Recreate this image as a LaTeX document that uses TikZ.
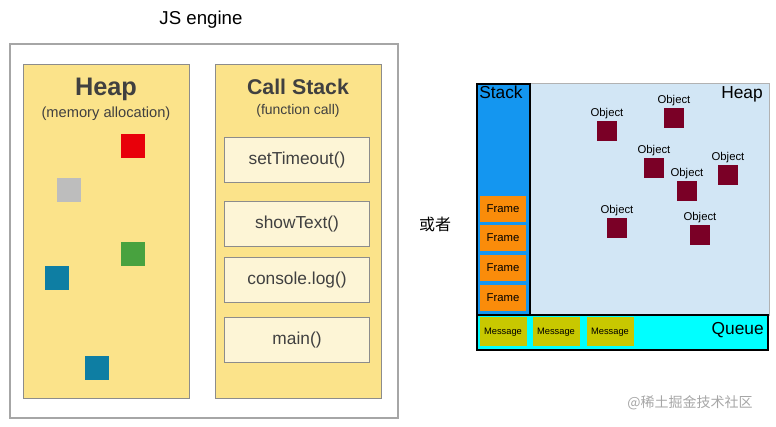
\documentclass[tikz,border=0pt]{standalone}
\usepackage{fontspec}
\setmainfont{Liberation Sans}
\newfontfamily\cjk{Noto Sans CJK SC}
\usetikzlibrary{positioning}
\definecolor{panelyellow}{HTML}{FBE38A}
\definecolor{callbox}{HTML}{FDF5D6}
\definecolor{stackblue}{HTML}{1496F0}
\definecolor{heapblue}{HTML}{D2E6F5}
\definecolor{queuecyan}{HTML}{00FFFF}
\definecolor{objred}{HTML}{7A0026}
\definecolor{frameorange}{HTML}{FA8C0A}
\definecolor{msgyellow}{HTML}{C8C800}
\definecolor{blobred}{HTML}{E8000A}
\definecolor{blobgray}{HTML}{BDBDBD}
\definecolor{blobgreen}{HTML}{48A23F}
\definecolor{blobteal}{HTML}{0E7EA3}
\tikzstyle{panel}=[fill=panelyellow, draw=black!45]
\tikzstyle{call}=[rectangle, fill=callbox, draw=black!45, minimum width=108.75pt, minimum height=33.75pt, font=\fontsize{13}{15}\selectfont, text=black!75]
\tikzstyle{blob}=[rectangle, minimum size=18pt, inner sep=0pt]
\tikzstyle{obj}=[rectangle, fill=objred, minimum size=15pt, inner sep=0pt]
\tikzstyle{objlab}=[font=\fontsize{8.5}{10}\selectfont, inner sep=1pt]
\tikzstyle{frame}=[rectangle, fill=frameorange, minimum width=34.5pt, minimum height=20pt, inner sep=0pt, font=\fontsize{8.5}{10}\selectfont]
\tikzstyle{msg}=[rectangle, fill=msgyellow, minimum width=35.25pt, minimum height=21.75pt, inner sep=0pt, font=\fontsize{7}{8}\selectfont]
\begin{document}
\begin{tikzpicture}[x=0.75pt, y=-0.75pt]
	\useasboundingbox (0,0) rectangle (776,427);

	% JS engine
	\node (title) at (201,20) {\fontsize{14}{16}\selectfont JS engine};
	\draw[black!35, line width=1pt] (10,44) rectangle (398,418);
	\draw[panel] (23,64) rectangle (189,398);
	\draw[panel] (215,64) rectangle (381,398);
	\node[font=\bfseries\fontsize{19}{21}\selectfont, text=black!75] (heap) at (106,89) {Heap};
	\node[font=\fontsize{11}{13}\selectfont, text=black!75] (heapsub) at (106,114) {(memory allocation)};
	\node[font=\bfseries\fontsize{16}{18}\selectfont, text=black!75] (stack) at (298,87) {Call Stack};
	\node[font=\fontsize{10.5}{12}\selectfont, text=black!75] (stacksub) at (298,111) {(function call)};
	\node[call] (f1) at (297,160) {setTimeout()};
	\node[call] (f2) at (297,224) {showText()};
	\node[call] (f3) at (297,280) {console.log()};
	\node[call] (f4) at (297,340) {main()};
	\node[blob, fill=blobred] (b1) at (133,146) {};
	\node[blob, fill=blobgray] (b2) at (69,190) {};
	\node[blob, fill=blobgreen] (b3) at (133,254) {};
	\node[blob, fill=blobteal] (b4) at (57,278) {};
	\node[blob, fill=blobteal] (b5) at (97,368) {};

	\node[font=\cjk\fontsize{12}{14}\selectfont] (or) at (435,224) {或者};

	% event loop model
	\draw[fill=heapblue, draw=black!30] (476,83) rectangle (769,315);
	\draw[fill=stackblue, draw=black, line width=1pt] (477,84) rectangle (530,315);
	\draw[fill=queuecyan, draw=black, line width=1pt] (477,315) rectangle (768,350);
	\node[anchor=north west, font=\fontsize{13}{15}\selectfont, inner sep=0pt] (stk) at (479,86) {Stack};
	\node[anchor=north east, font=\fontsize{13}{15}\selectfont, inner sep=0pt] (hp) at (763,86) {Heap};
	\node[anchor=east, font=\fontsize{13}{15}\selectfont, inner sep=0pt] (q) at (764,330) {Queue};
	\foreach \y [count=\i] in {209,238,268,298}
		\node[frame] (fr\i) at (503,\y) {Frame};
	\foreach \x [count=\i] in {503,556,610}
		\node[msg] (m\i) at (\x,332) {Message};
	\foreach \x/\y [count=\i] in {607/131,674/118,654/168,728/175,687/191,617/228,700/235}
	{
		\node[obj] (o\i) at (\x,\y) {};
		\node[objlab, above=0pt of o\i] {Object};
	}

	\node[font=\cjk\fontsize{10.5}{12}\selectfont, text=black!35] (wm) at (690,403) {@稀土掘金技术社区};
\end{tikzpicture}
\end{document}
